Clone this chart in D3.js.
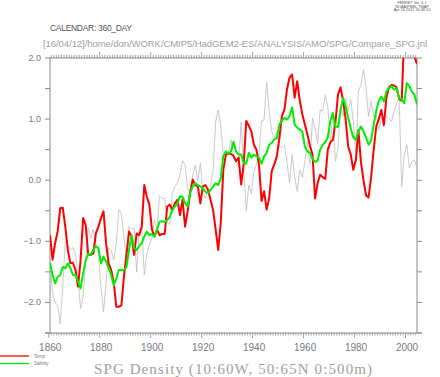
<!DOCTYPE html>
<html>
<head>
<meta charset="utf-8">
<script src="https://cdn.jsdelivr.net/npm/d3@7"></script>
<style>
body { margin: 0; background: #fff; }
text { font-family: "Liberation Sans", Arial, sans-serif; }
</style>
</head>
<body>
<svg id="chart" width="440" height="377"></svg>
<script>
// annual values, first point is mid 1860
var first_year = 1860.5;

var temp = [
 -0.90,-1.30,-1.03,-0.84,-0.46,-0.45,-0.76,-1.14,-1.36,-1.35,
 -1.47,-1.74,-1.31,-0.62,-0.73,-1.22,-1.22,-1.20,-0.87,-0.76,
 -0.62,-0.51,-1.03,-1.36,-1.47,-1.66,-2.07,-2.07,-2.05,-1.58,
 -1.22,-0.84,-0.92,-1.22,-0.87,-0.90,-0.76,-0.08,-0.27,-0.40,
 -0.81,-0.92,-0.81,-0.90,-0.88,-0.88,-0.43,-0.40,-0.49,-0.38,
 -0.32,-0.57,-0.32,-0.76,-0.51,-0.19, 0.01,-0.08,-0.10,-0.38,
 -0.10,-0.08,-0.16,-0.32,-0.49,-0.81,-1.14,-0.70, 0.17, 0.42,
  0.44, 0.43, 0.40, 0.31, 0.37,-0.07, 0.26, 0.97, 0.89, 0.80,
  0.58, 0.50, 0.26,-0.34,-0.18,-0.48,-0.29, 0.15, 0.26, 0.39,
  0.69, 1.05, 1.16, 1.49, 1.68, 1.73, 1.35, 1.62, 1.30, 1.08,
  0.91, 0.75, 0.56, 0.42,-0.30,-0.05, 0.09, 0.05, 0.02, 0.50,
  0.62, 0.66, 0.95, 1.40, 1.52, 1.30, 1.00, 0.55, 0.42, 0.17,
  0.33, 0.82, 0.30, 0.00,-0.25,-0.28, 0.05, 0.50, 0.88, 1.00,
  1.15, 0.90, 1.35, 1.52, 1.56, 1.55, 1.52, 1.33, 1.30, 2.40,
  2.60, 2.50, 2.30, 2.03, 1.90
];

var salinity = [
 -1.36,-1.55,-1.69,-1.58,-1.55,-1.42,-1.44,-1.36,-1.44,-1.55,
 -1.55,-1.66,-1.77,-1.52,-1.31,-1.20,-1.22,-1.14,-1.08,-1.11,
 -1.36,-1.25,-1.33,-1.44,-1.55,-1.72,-1.61,-1.47,-1.47,-1.47,
 -1.42,-1.14,-0.90,-1.11,-1.14,-1.08,-1.03,-0.92,-0.84,-0.90,
 -0.88,-0.92,-0.81,-0.68,-0.67,-0.68,-0.65,-0.60,-0.49,-0.43,
 -0.38,-0.26,-0.27,-0.38,-0.43,-0.21,-0.10,-0.05,-0.08,-0.10,
 -0.13,-0.19,-0.21,-0.16,-0.10,-0.05,-0.08, 0.03, 0.39, 0.47,
  0.44, 0.47, 0.63, 0.47, 0.42, 0.42, 0.28, 0.27, 0.45, 0.37,
  0.42, 0.39, 0.37, 0.27, 0.39, 0.45, 0.58, 0.61, 0.67, 0.69,
  0.91, 0.97, 1.02, 0.99, 1.05, 1.19, 0.91, 0.86, 0.83, 0.80,
  0.55, 0.47, 0.45, 0.35, 0.30, 0.32, 0.50, 0.58, 0.62, 0.70,
  0.97, 1.10, 0.88, 0.87, 1.15, 1.34, 1.21, 1.02, 0.85, 0.70,
  0.66, 0.80, 0.88, 0.80, 0.70, 0.58, 0.65, 0.91, 1.13, 1.30,
  1.37, 1.29, 1.45, 1.51, 1.54, 1.48, 1.51, 1.34, 1.32, 1.26,
  1.59, 1.54, 1.45, 1.40, 1.24
];

var density = [
 -1.30,-1.85,-2.00,-2.05,-2.35,-1.75,-1.00,-1.05,-1.15,-1.10,
 -1.20,-1.60,-2.10,-1.90,-1.30,-0.78,-0.95,-0.80,-1.05,-1.20,
 -1.75,-2.15,-1.70,-1.10,-1.15,-1.30,-1.05,-0.48,-0.55,-0.92,
 -1.30,-0.75,-0.80,-0.78,-1.50,-0.80,-0.75,-1.55,-1.20,-1.05,
 -0.95,-0.65,-0.80,-0.25,-0.30,-0.30,-0.70,-0.72,-0.22,-0.10,
 -0.05, 0.10, 0.32, 0.25,-0.15,-0.18, 0.08, 0.25, 0.00, 0.28,
 -0.20,-0.30,-0.15,-0.08, 0.17, 0.96, 1.15, 0.88, 0.39, 0.44,
  0.44, 0.66, 0.39, 0.33, 0.22, 0.95, 0.20,-0.50,-0.08,-0.22,
  0.15, 0.26, 0.42, 0.97, 0.99, 1.60, 1.13, 0.80, 0.69, 0.78,
  0.56, 0.53, 0.58, 0.28,-0.04, 0.42, 0.05,-0.18, 0.17, 0.05,
  0.30, 0.64, 0.26, 1.02, 0.85, 0.60, 1.15, 1.13, 1.40, 1.20,
  0.60, 1.10, 0.31, 0.52, 1.21, 1.05, 1.34, 1.13, 1.32, 0.96,
  0.42, 1.45, 1.56, 1.81, 1.51, 1.04, 1.29, 1.04, 1.07, 0.83,
  1.02, 1.04, 1.04, 1.00, 0.96, 1.13, 1.26, 1.32,-0.10, 0.42,
  0.58, 0.20, 0.31, 0.33, 0.20
];

var x_labels = [1860, 1880, 1900, 1920, 1940, 1960, 1980, 2000];
var y_labels = [-2.0, -1.0, 0.0, 1.0, 2.0];
var header_lines = ["FERRET Ver. 6.1", "NOAA/PMEL TMAP", "Apr 16 2012 16:48:10"];
var legend_names = ["Temp", "Salinity"];
var calendar_text = "CALENDAR: 360_DAY";
var path_text = "[16/04/12]/home/don/WORK/CMIP5/HadGEM2-ES/ANALYSIS/AMO/SPG/Compare_SPG.jnl";
var title_text = "SPG Density (10:60W, 50:65N 0:500m)";

var ctx = {
    left: 50, right: 417, top: 58, bottom: 333,
    axis_color: "#8a8a8a",
    label_color: "#7a7a7a"
};

var svg = d3.select("#chart");

var x = d3.scaleLinear()
    .domain([first_year, first_year + temp.length - 1])
    .range([ctx.left, ctx.right]);
var y = d3.scaleLinear()
    .domain([-2.5, 2.0])
    .range([ctx.bottom, ctx.top]);

// header stuff
svg.append("g").selectAll("text")
    .data(header_lines)
    .enter()
    .append("text")
    .attr("x", 412)
    .attr("y", (d, i) => 4 + i * 3.6)
    .attr("text-anchor", "middle")
    .attr("font-size", 3.8)
    .attr("fill", "#555")
    .text(d => d);

svg.append("text")
    .attr("x", 50).attr("y", 31)
    .attr("font-size", 8.5)
    .attr("fill", "#555")
    .attr("textLength", 82)
    .attr("lengthAdjust", "spacing")
    .text(calendar_text);

svg.append("text")
    .attr("x", 43).attr("y", 47)
    .attr("font-size", 9.5)
    .attr("fill", "#a0a0a0")
    .attr("textLength", 384)
    .text(path_text);

// axes
var axes = svg.append("g")
    .attr("stroke", ctx.axis_color)
    .attr("stroke-width", 1)
    .attr("fill", "none");

axes.append("line").attr("x1", ctx.left).attr("x2", ctx.left).attr("y1", ctx.top).attr("y2", ctx.bottom);
axes.append("line").attr("x1", ctx.right).attr("x2", ctx.right).attr("y1", ctx.top).attr("y2", ctx.bottom);
axes.append("line").attr("x1", ctx.left).attr("x2", ctx.right).attr("y1", ctx.top).attr("y2", ctx.top);
axes.append("line").attr("x1", ctx.left - 5).attr("x2", ctx.right + 5).attr("y1", ctx.bottom).attr("y2", ctx.bottom);

var y_minor = d3.range(-5, 5).map(d => d / 2);
axes.selectAll(".ytl")
    .data(y_minor)
    .enter()
    .append("line")
    .attr("x1", ctx.left - 5).attr("x2", ctx.left)
    .attr("y1", d => y(d)).attr("y2", d => y(d));
axes.selectAll(".ytr")
    .data(y_minor)
    .enter()
    .append("line")
    .attr("x1", ctx.right).attr("x2", ctx.right + 5)
    .attr("y1", d => y(d)).attr("y2", d => y(d));

var years = d3.range(1860, 2005);
axes.selectAll(".xtb")
    .data(years)
    .enter()
    .append("line")
    .attr("stroke-width", 0.8)
    .attr("x1", d => x(d)).attr("x2", d => x(d))
    .attr("y1", ctx.bottom)
    .attr("y2", d => ctx.bottom + (d % 20 == 0 ? 5 : 2.5));
axes.selectAll(".xtt")
    .data(years.filter(d => x(d) >= ctx.left))
    .enter()
    .append("line")
    .attr("stroke-width", 0.8)
    .attr("x1", d => x(d)).attr("x2", d => x(d))
    .attr("y1", ctx.top)
    .attr("y2", d => ctx.top - (d % 20 == 0 ? 6 : 3));

var fmt = d3.format(".1f");
svg.append("g").selectAll("text")
    .data(y_labels)
    .enter()
    .append("text")
    .attr("x", 41)
    .attr("y", d => y(d) + 3)
    .attr("text-anchor", "end")
    .attr("font-size", 9)
    .attr("fill", ctx.label_color)
    .text(d => fmt(d));

svg.append("g").selectAll("text")
    .data(x_labels)
    .enter()
    .append("text")
    .attr("x", d => x(d) + 1.5)
    .attr("y", 350.5)
    .attr("text-anchor", "middle")
    .attr("font-size", 10)
    .attr("fill", ctx.label_color)
    .text(d => d);

// lines
svg.append("clipPath").attr("id", "plot_clip")
    .append("rect")
    .attr("x", ctx.left).attr("y", ctx.top)
    .attr("width", ctx.right - ctx.left).attr("height", ctx.bottom - ctx.top);

var line = d3.line()
    .x((d, i) => x(first_year + i))
    .y(d => y(d));

var series = [
    { values: density, color: "#bdbdbd", width: 0.8 },
    { values: temp, color: "#ff0000", width: 2 },
    { values: salinity, color: "#00ee00", width: 2 }
];

svg.append("g").attr("clip-path", "url(#plot_clip)")
    .selectAll("path")
    .data(series)
    .enter()
    .append("path")
    .attr("fill", "none")
    .attr("stroke", d => d.color)
    .attr("stroke-width", d => d.width)
    .attr("stroke-linejoin", "round")
    .attr("d", d => line(d.values));

// legend
var legend = svg.append("g").selectAll("g")
    .data(legend_names)
    .enter()
    .append("g")
    .attr("transform", (d, i) => "translate(0," + (356 + i * 7.6) + ")");
legend.append("line")
    .attr("x1", 0).attr("x2", 29)
    .attr("stroke", (d, i) => series[i + 1].color)
    .attr("stroke-width", 1.3);
legend.append("text")
    .attr("x", 34).attr("y", 1.5)
    .attr("font-size", 4.5)
    .attr("fill", "#777")
    .text(d => d);

svg.append("text")
    .attr("x", 94).attr("y", 373.5)
    .style("font-family", "'Liberation Serif', 'DejaVu Serif', serif")
    .attr("font-size", 15)
    .attr("fill", "#a0a0a0")
    .attr("textLength", 278)
    .text(title_text);
</script>
</body>
</html>
